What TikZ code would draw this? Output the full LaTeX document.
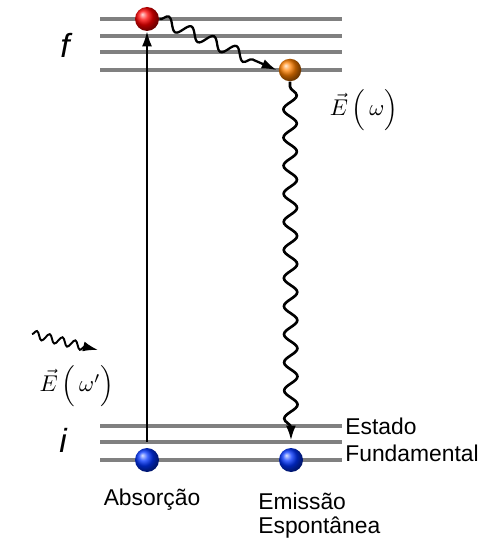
\documentclass[tikz,border=0pt]{standalone}
\usepackage{fontspec}
\setmainfont{Liberation Sans}
\usetikzlibrary{arrows.meta,decorations.pathmorphing}

\begin{document}
\begin{tikzpicture}[
    x=0.02cm, y=-0.02cm,
    level/.style={draw=gray, line width=1.9pt}, % energy levels
    ball/.style={circle, shading=ball, minimum size=0.48cm, inner sep=0pt}, % atoms
    photon/.style={decorate, line width=1.3pt, decoration={snake, amplitude=3.4pt, segment length=14pt, post length=3mm}}, % wavy photons
    tip/.style={-{Latex[length=3mm, width=2mm]}},
    txt/.style={font=\fontsize{13}{16}\selectfont, inner sep=0pt},
    field/.style={inner sep=0pt}
]

    % Page frame
    \useasboundingbox (0,0) rectangle (483,540);

    % Energy levels
    \foreach \y in {19,36,52,70} \draw[level] (100,\y) -- (342,\y);
    \foreach \y in {426,442,460} \draw[level] (100,\y) -- (342,\y);

    % Level labels
    \node[font=\fontsize{19}{20}\selectfont\itshape] (lf) at (65,45) {f};
    \node[font=\fontsize{19}{20}\selectfont\itshape] (li) at (63,440) {i};

    % Atoms
    \node[ball, ball color=red] (top) at (147,19) {};
    \node[ball, ball color=orange, minimum size=0.45cm] (mid) at (290,70) {};
    \node[ball, ball color=blue!80!cyan] (absA) at (147,460) {};
    \node[ball, ball color=blue!80!cyan] (emiB) at (291,460) {};

    % Absorption
    \draw[tip, line width=1.1pt, shorten <=3.5pt] (absA.north) -- (top.south);

    % Decay and spontaneous emission
    \draw[tip, photon] (top.east) -- ([xshift=-1pt]mid.west);
    \draw[tip, line width=1.5pt, decorate, decoration={snake, amplitude=3.8pt, segment length=16pt, pre length=1mm, post length=3mm}, shorten >=4pt] (mid.south) -- (emiB.north);

    % Incoming photon
    \coordinate (pin) at (32,334);
    \coordinate (pout) at (98,350);
    \draw[tip, line width=1.1pt, decorate, decoration={snake, amplitude=2.3pt, segment length=7.5pt, post length=2.5mm}] (pin) -- (pout);

    % Field labels
    \node[field] (ew) at (364,110) {\scalebox{1.3}{$\vec{E}\,\Bigl(\,\omega\Bigr)$}};
    \node[field] (ewp) at (77,386) {\scalebox{1.3}{$\vec{E}\,\Bigl(\,\omega'\Bigr)$}};

    % Captions
    \node[txt, anchor=west] (est) at (345,426) {Estado};
    \node[txt, anchor=west] (fund) at (345,453) {Fundamental};
    \node[txt] (abs) at (152,500) {Absorção};
    \node[txt, anchor=west] (emi1) at (258,501) {Emissão};
    \node[txt, anchor=west] (emi2) at (258,528) {Espontânea};

\end{tikzpicture}
\end{document}
